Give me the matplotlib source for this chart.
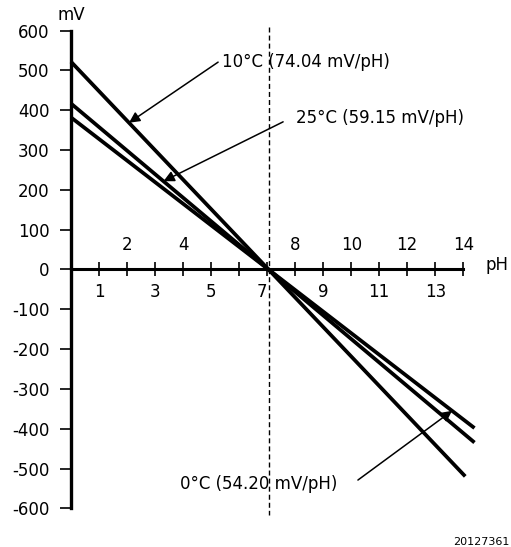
import numpy as np
import matplotlib
matplotlib.use("Agg")
import matplotlib.pyplot as plt

plt.rcParams['font.family'] = ['DejaVu Sans']

# Electrode response lines: slope (mV/pH) for each temperature
temps = ["0°C", "25°C", "10°C"]
slopes = [54.20, 59.15, 74.04]
ph_end = [14.4, 14.4, 14.07]
iso_ph = 7.05          # isopotential point (0 mV)
ph_ticks = list(range(1, 15))
ph_labels_above = [2, 4, 8, 10, 12, 14]
ph_labels_below = [1, 3, 5, 7, 9, 11, 13]
mv_ticks = list(range(-600, 601, 100))

FS = 12

fig = plt.figure(figsize=(5.11, 5.47), dpi=100)
ax = fig.add_axes([0, 0, 1, 1])
ax.set_xlim(-2.534, 15.703)
ax.set_ylim(-697.2, 677.1)

for s, e in zip(slopes, ph_end):
    x = np.array([0.0, e])
    ax.plot(x, -s * (x - iso_ph), color='black', lw=2.7, solid_capstyle='butt', zorder=3)

# vertical dashed line through the isopotential point
ax.plot([iso_ph, iso_ph], [609, -617], color='black', lw=1.0,
        linestyle=(0, (3.6, 2.2)), zorder=2)

# axes through the origin
for side in ['top', 'right']:
    ax.spines[side].set_visible(False)
ax.spines['left'].set_position(('data', 0))
ax.spines['bottom'].set_position(('data', 0))
ax.spines['left'].set_bounds(-600, 600)
ax.spines['bottom'].set_bounds(0, 14)
ax.spines['left'].set_linewidth(2.4)
ax.spines['bottom'].set_linewidth(2.2)

ax.set_yticks(mv_ticks)
ax.set_yticklabels([str(v) for v in mv_ticks], fontsize=FS)
ax.tick_params(axis='y', direction='out', length=8, width=1.2, pad=7.5)
ax.set_xticks(ph_ticks)
ax.set_xticklabels([])
ax.tick_params(axis='x', direction='inout', length=9.5, width=1.2)

for p in ph_labels_above:
    ax.text(p, 61.5, str(p), ha='center', va='center', fontsize=FS)
for p in ph_labels_below:
    xp = p - 0.18 if p == 7 else p
    ax.text(xp, -56.5, str(p), ha='center', va='center', fontsize=FS)

ax.text(15.2, 11, "pH", ha='center', va='center', fontsize=FS)
ax.text(0.0, 639, "mV", ha='center', va='center', fontsize=FS)

arrow = dict(arrowstyle='-|>', lw=1.1, color='black', mutation_scale=16,
             shrinkA=0, shrinkB=0)

def on_line(slope, ph):
    return (ph, -slope * (ph - iso_ph))

ax.annotate("", xy=on_line(slopes[2], 2.07), xytext=(5.25, 521), arrowprops=arrow, zorder=4)
ax.text(5.39, 521, "10°C (74.04 mV/pH)", ha='left', va='center', fontsize=FS)

ax.annotate("", xy=on_line(slopes[1], 3.3), xytext=(7.57, 371), arrowprops=arrow, zorder=4)
ax.text(8.03, 381, "25°C (59.15 mV/pH)", ha='left', va='center', fontsize=FS)

ax.annotate("", xy=on_line(slopes[0], 13.6), xytext=(10.24, -529), arrowprops=arrow, zorder=4)
ax.text(3.89, -539, "0°C (54.20 mV/pH)", ha='left', va='center', fontsize=FS)

fig.text(510 / 511, 1 - 541.7 / 547, "20127361", ha='right', va='center', fontsize=8)

fig.savefig("out.png", dpi=100)
